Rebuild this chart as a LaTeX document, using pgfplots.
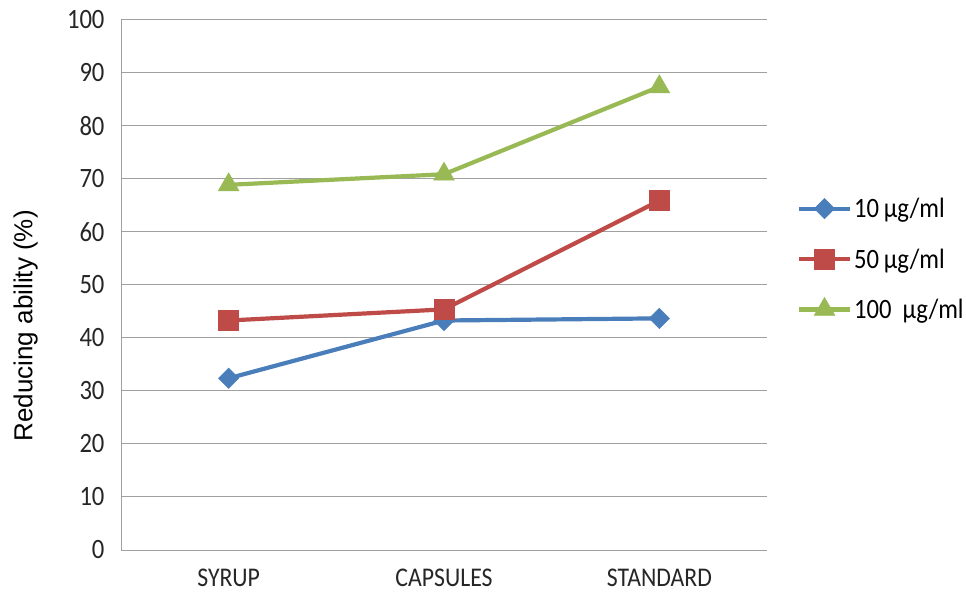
\documentclass[border=0pt]{standalone}
\usepackage{pgfplots}
\pgfplotsset{compat=1.18}
\usepackage{fontspec}
\setmainfont{Carlito}
\newfontfamily\lblfont[FakeStretch=0.88]{Carlito}
\newfontfamily\arialfont{Liberation Sans}

\definecolor{sblue}{RGB}{74,126,187}
\definecolor{sred}{RGB}{190,75,72}
\definecolor{sgreen}{RGB}{152,185,84}
\definecolor{gridgray}{RGB}{160,160,160}

\begin{document}
\begin{tikzpicture}
\useasboundingbox (0,0) rectangle (966bp,594bp);
\begin{axis}[
  at={(121bp,44bp)}, anchor=south west,
  scale only axis, width=646bp, height=530bp,
  xmin=-0.5, xmax=2.5, ymin=0, ymax=100,
  xtick={0,1,2}, xticklabels={SYRUP,CAPSULES,STANDARD},
  ytick={0,10,...,100},
  axis x line*=bottom, axis y line*=left,
  axis line style={draw=gridgray, line width=1bp, -},
  ymajorgrids, grid style={draw=gridgray, line width=1bp},
  major tick length=0pt,
  tick label style={font=\lblfont\fontsize{28bp}{32bp}\selectfont, text=black!85},
  xticklabel style={inner sep=0pt, yshift=-19bp, font=\lblfont\fontsize{27bp}{30bp}\selectfont},
  yticklabel style={xshift=-13bp},
  /pgf/number format/assume math mode=true,
  ylabel={\arialfont Reducing ability (\%)},
  ylabel style={font=\fontsize{26bp}{30bp}\selectfont, at={(-111bp,0.423)}, anchor=north, rotate=0},
  legend style={draw=none, fill=none, at={(1.046,0.668)}, anchor=north west,
    font=\lblfont\fontsize{28bp}{32bp}\selectfont, row sep=25.5bp, inner sep=0pt,
    /tikz/every even column/.append style={column sep=4bp}},
  legend cell align=left,
  legend image code/.code={\draw[mark repeat=2,mark phase=2] plot coordinates {(0bp,0bp) (25.5bp,0bp) (51bp,0bp)};},
  every axis plot/.append style={line width=4.2bp},
  clip=false,
]
\addplot[color=sblue, mark=square*, mark size=7.2bp, mark options={rotate=45, line width=0.5bp, fill=sblue}]
  coordinates {(0,32.4) (1,43.3) (2,43.7)};
\addlegendentry{10\,µg/ml}
\addplot[color=sred, mark=square*, mark size=10bp, mark options={line width=0.5bp, fill=sred}]
  coordinates {(0,43.3) (1,45.4) (2,65.9)};
\addlegendentry{50\,µg/ml}
\addplot[color=sgreen, mark=triangle*, mark size=12bp, mark options={line width=0.5bp, fill=sgreen}]
  coordinates {(0,68.9) (1,70.9) (2,87.4)};
\addlegendentry{100\ \ µg/ml}
\end{axis}
\end{tikzpicture}
\end{document}
